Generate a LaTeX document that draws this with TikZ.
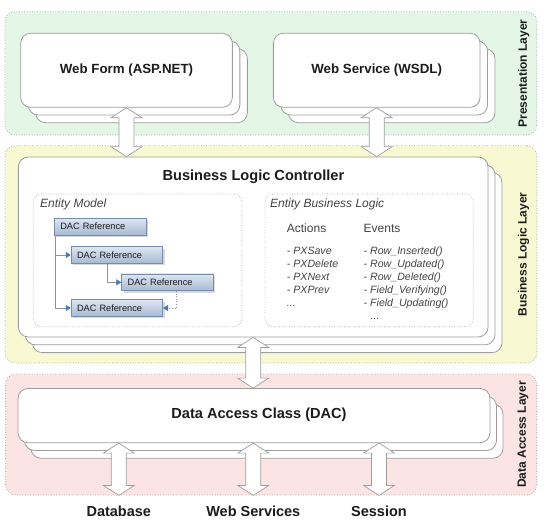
\documentclass[tikz,border=0pt]{standalone}
\usepackage{fontspec}
\setmainfont{Liberation Sans}
\usetikzlibrary{positioning, calc, shadows, arrows.meta}
\definecolor{presgreen}{RGB}{228,247,231}
\definecolor{bizyellow}{RGB}{248,249,210}
\definecolor{datapink}{RGB}{252,228,228}
\definecolor{layerline}{RGB}{172,172,172}
\definecolor{cardline}{RGB}{158,158,158}
\definecolor{reftop}{RGB}{222,230,241}
\definecolor{refbot}{RGB}{166,185,210}
\definecolor{refline}{RGB}{118,140,170}
\definecolor{refarrow}{RGB}{72,122,186}
\definecolor{txtdark}{RGB}{28,28,28}
\definecolor{txtgray}{RGB}{68,68,68}
\tikzset{
  layerbox/.style={rectangle, rounded corners=10pt, draw=layerline,
    line width=0.8pt, dash pattern=on 0.8pt off 1.8pt, inner sep=0pt},
  layerlabel/.style={rotate=90, font=\fontsize{12}{14}\selectfont\bfseries,
    text=txtdark, inner sep=0pt},
  card/.style={rectangle, rounded corners=10pt, draw=cardline, fill=white,
    line width=0.8pt, inner sep=0pt, text=txtdark,
    font=\fontsize{13.3}{16}\selectfont\bfseries},
  stack/.style args={#1/#2}{
    copy shadow={shadow xshift=2*#1pt, shadow yshift=-2*#2pt,
      fill=white, draw=cardline, opacity=1},
    copy shadow={shadow xshift=#1pt, shadow yshift=-#2pt,
      fill=white, draw=cardline, opacity=1}},
  cardtitle/.style={font=\fontsize{14.6}{17}\selectfont\bfseries,
    text=txtdark, inner sep=0pt},
  groupbox/.style={rectangle, rounded corners=8pt, draw=layerline,
    line width=0.7pt, dash pattern=on 0.7pt off 1.8pt, inner sep=0pt},
  grouplabel/.style={font=\fontsize{12}{14}\selectfont\itshape,
    text=txtgray, inner sep=0pt, anchor=base west},
  colhead/.style={font=\fontsize{12}{14}\selectfont, text=txtgray,
    inner sep=0pt, anchor=base west},
  itemlist/.style={font=\fontsize{10.6}{13}\selectfont\itshape,
    text=txtgray, inner sep=0pt, align=left, anchor=north west},
  dacref/.style={rectangle, draw=refline, line width=0.6pt,
    top color=reftop, bottom color=refbot,
    drop shadow={shadow xshift=2pt, shadow yshift=-2pt, opacity=0.3},
    minimum width=91.7pt, minimum height=16.7pt, text width=79.7pt,
    inner xsep=6pt, inner ysep=0pt, align=left, text=txtdark,
    font=\fontsize{9.2}{10}\selectfont},
  treeline/.style={draw=gray!85, line width=0.6pt,
    -{Triangle[length=5pt, width=6pt, color=refarrow]}},
  blockarrow/.style={draw=cardline, fill=white, line width=0.7pt},
  sinklabel/.style={font=\fontsize{14.5}{17}\selectfont\bfseries,
    text=txtdark, inner sep=0pt}
}
% double headed block arrow between two anchors (vertical)
\newcommand{\dblarrow}[2]{%
  \draw[blockarrow] let \p1=(#1), \p2=(#2) in
    (\x1,\y1) -- (\x1+15.5pt,\y1-10pt) -- (\x1+7.5pt,\y1-10pt)
    -- (\x1+7.5pt,\y2+10pt) -- (\x1+15.5pt,\y2+10pt) -- (\x1,\y2)
    -- (\x1-15.5pt,\y2+10pt) -- (\x1-7.5pt,\y2+10pt)
    -- (\x1-7.5pt,\y1-10pt) -- (\x1-15.5pt,\y1-10pt) -- cycle;}
\begin{document}
\begin{tikzpicture}[x=1pt, y=-1pt]
  \path[use as bounding box, fill=white] (0,0) rectangle (548,530);
  % Layers
  \node[layerbox, fill=presgreen, minimum width=531.7pt, minimum height=123.3pt] (pres) at (270.9,73.4) {};
  \node[layerbox, fill=bizyellow, minimum width=531.7pt, minimum height=217.3pt] (bll) at (270.9,254.4) {};
  \node[layerbox, fill=datapink, minimum width=531pt, minimum height=121pt] (dal) at (271.1,434.5) {};
  \node[layerlabel] (preslbl) at ([xshift=-13.5pt]pres.east) {Presentation Layer};
  \node[layerlabel] (bizlbl) at ([xshift=-13.5pt]bll.east) {Business Logic Layer};
  \node[layerlabel] (datalbl) at ([xshift=-14pt]dal.east) {Data Access Layer};
  % Presentation cards
  \node[card, stack=7.5/7.7, minimum width=211.7pt, minimum height=74pt] (wf) at (126.5,70.3) {Web Form (ASP.NET)};
  \node[card, stack=7.5/7.7, minimum width=206.7pt, minimum height=74pt] (ws) at (376.7,70.3) {Web Service (WSDL)};
  % Business logic controller
  \node[card, stack=7/7.8, minimum width=469.7pt, minimum height=180pt] (blc) at (253.2,247) {};
  \node[cardtitle] (blctitle) at (253.4,176.5) {Business Logic Controller};
  % Data access class
  \node[card, stack=6.5/7.8, minimum width=472pt, minimum height=54.2pt] (dac) at (254,415.6) {};
  \node[cardtitle] (dactitle) at (259,414.5) {Data Access Class (DAC)};
  % Block arrows
  \dblarrow{wf.south}{wf.south |- blc.north}
  \dblarrow{ws.south}{ws.south |- blc.north}
  \dblarrow{blc.south}{blc.south |- dac.north}
  % Entity model
  \node[groupbox, minimum width=208.7pt, minimum height=132.7pt] (em) at (137.7,260.4) {};
  \node[grouplabel] (emlbl) at (40,207.3) {Entity Model};
  \node[dacref] (dacrefA) at (100.2,226.7) {DAC Reference};
  \node[dacref] (dacrefB) at (116.9,255) {DAC Reference};
  \node[dacref] (dacrefC) at (167.5,282.3) {DAC Reference};
  \node[dacref] (dacrefD) at (116.9,308) {DAC Reference};
  \draw[treeline] ([xshift=1pt]dacrefA.south west) |- (dacrefB.west);
  \draw[treeline] ([xshift=1pt]dacrefA.south west) |- (dacrefD.west);
  \draw[treeline] ([xshift=37pt]dacrefB.south west) |- (dacrefC.west);
  \draw[treeline, dotted] ([xshift=55pt]dacrefC.south west) |- (dacrefD.east);
  % Entity business logic
  \node[groupbox, minimum width=208.3pt, minimum height=132.7pt] (ebl) at (369.2,260.4) {};
  \node[grouplabel] (ebllbl) at (270,207.6) {Entity Business Logic};
  \node[colhead] (acthead) at (286.7,232.6) {Actions};
  \node[colhead] (evthead) at (363.5,232.6) {Events};
  \node[itemlist] (actlist) at (286.7,247) {- PXSave\\- PXDelete\\- PXNext\\- PXPrev\\...};
  \node[itemlist] (evtlist) at (363.5,247) {- Row\_Inserted()\\- Row\_Updated()\\- Row\_Deleted()\\- Field\_Verifying()\\- Field\_Updating()\\\hspace{7pt}...};
  % External resources
  \node[sinklabel] (db) at (118.8,511.7) {Database};
  \node[sinklabel] (websvc) at (253.3,511.7) {Web Services};
  \node[sinklabel] (sess) at (379,511.7) {Session};
  \dblarrow{dac.south -| db.north}{dal.south -| db.north}
  \dblarrow{dac.south -| websvc.north}{dal.south -| websvc.north}
  \dblarrow{dac.south -| sess.north}{dal.south -| sess.north}
\end{tikzpicture}
\end{document}
